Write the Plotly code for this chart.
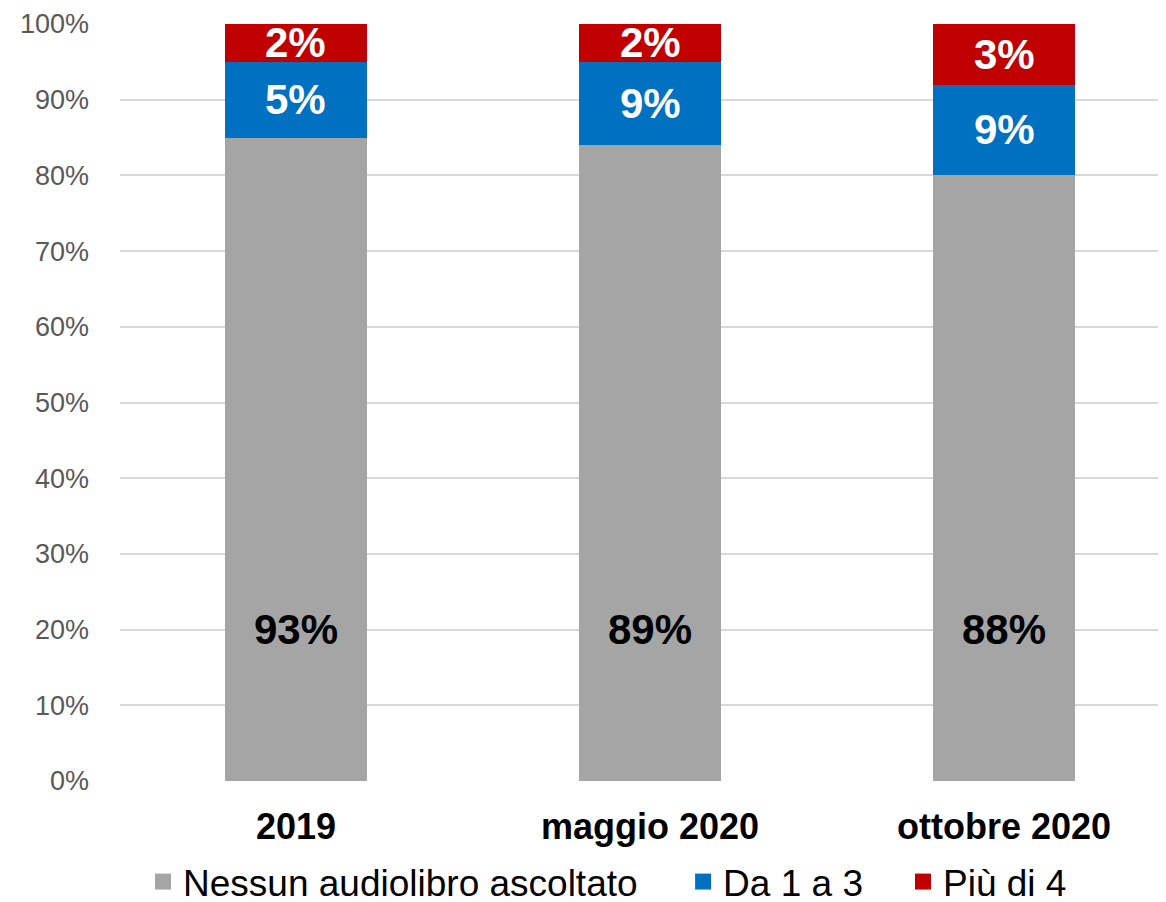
import plotly.graph_objects as go

categories = ["2019", "maggio 2020", "ottobre 2020"]
series_names = ["Nessun audiolibro ascoltato", "Da 1 a 3", "Più di 4"]
# bar heights as drawn in the chart
nessun_vals = [85, 84, 80]
da1a3_vals = [10, 11, 12]
piu4_vals = [5, 5, 8]
# data labels as printed in the chart
nessun_labels = ["93%", "89%", "88%"]
da1a3_labels = ["5%", "9%", "9%"]
piu4_labels = ["2%", "2%", "3%"]
y_ticks = list(range(0, 101, 10))
y_tick_labels = [f"{v}%" for v in y_ticks]

colors = ["#a5a5a5", "#0070c0", "#c00000"]
FONT = "Liberation Sans, Arial, sans-serif"

fig = go.Figure()
for name, vals, col in zip(series_names, [nessun_vals, da1a3_vals, piu4_vals], colors):
    fig.add_trace(go.Bar(x=categories, y=vals, name=name, marker_color=col,
                         marker_line_width=0, hoverinfo="skip", showlegend=False))
# legend entries with larger square swatches, one legend box per entry
legend_ids = ["legend", "legend2", "legend3"]
for name, col, lg in zip(series_names, colors, legend_ids):
    fig.add_trace(go.Scatter(x=[None], y=[None], mode="markers", name=name,
                             marker=dict(symbol="square", size=20, color=col),
                             showlegend=True, legend=lg))

annotations = []
GRAY_LABEL_Y = 20
for i, c in enumerate(categories):
    annotations.append(dict(x=i, y=GRAY_LABEL_Y, text=nessun_labels[i], showarrow=False,
                            font=dict(family=FONT, size=42, color="black", weight="bold")))
    base = nessun_vals[i]
    annotations.append(dict(x=i, y=base + da1a3_vals[i] / 2, text=da1a3_labels[i], showarrow=False,
                            font=dict(family=FONT, size=42, color="white", weight="bold")))
    base2 = base + da1a3_vals[i]
    annotations.append(dict(x=i, y=base2 + piu4_vals[i] / 2, text=piu4_labels[i], showarrow=False,
                            font=dict(family=FONT, size=42, color="white", weight="bold")))

def leg(xpos):
    return dict(orientation="h", x=xpos, xanchor="left", xref="container",
                yref="container", y=0.031, yanchor="middle",
                font=dict(family=FONT, size=37, color="black"),
                itemwidth=30, itemsizing="trace", bgcolor="rgba(0,0,0,0)")

fig.update_layout(
    barmode="stack",
    bargap=0.6,
    width=1166, height=902,
    margin=dict(l=112, r=0, t=16, b=129, autoexpand=False),
    plot_bgcolor="white", paper_bgcolor="white",
    font=dict(family=FONT),
    showlegend=True,
    legend=leg(0.1158),
    legend2=leg(0.579),
    legend3=leg(0.7676),
    annotations=annotations,
    xaxis=dict(type="category", range=[-0.497, 2.48], showgrid=False, showline=False, zeroline=False,
               tickfont=dict(family=FONT, size=36, color="black", weight="bold"),
               ticks="", ticklabelstandoff=21, automargin=False),
    yaxis=dict(range=[0, 100], tickvals=y_ticks, ticktext=y_tick_labels,
               showgrid=True, gridcolor="#d9d9d9", gridwidth=1.5,
               zeroline=False, showline=False,
               tickfont=dict(family=FONT, size=27, color="#595959"),
               ticks="", ticklabelstandoff=30, automargin=False),
)

fig.write_html("out.html")
